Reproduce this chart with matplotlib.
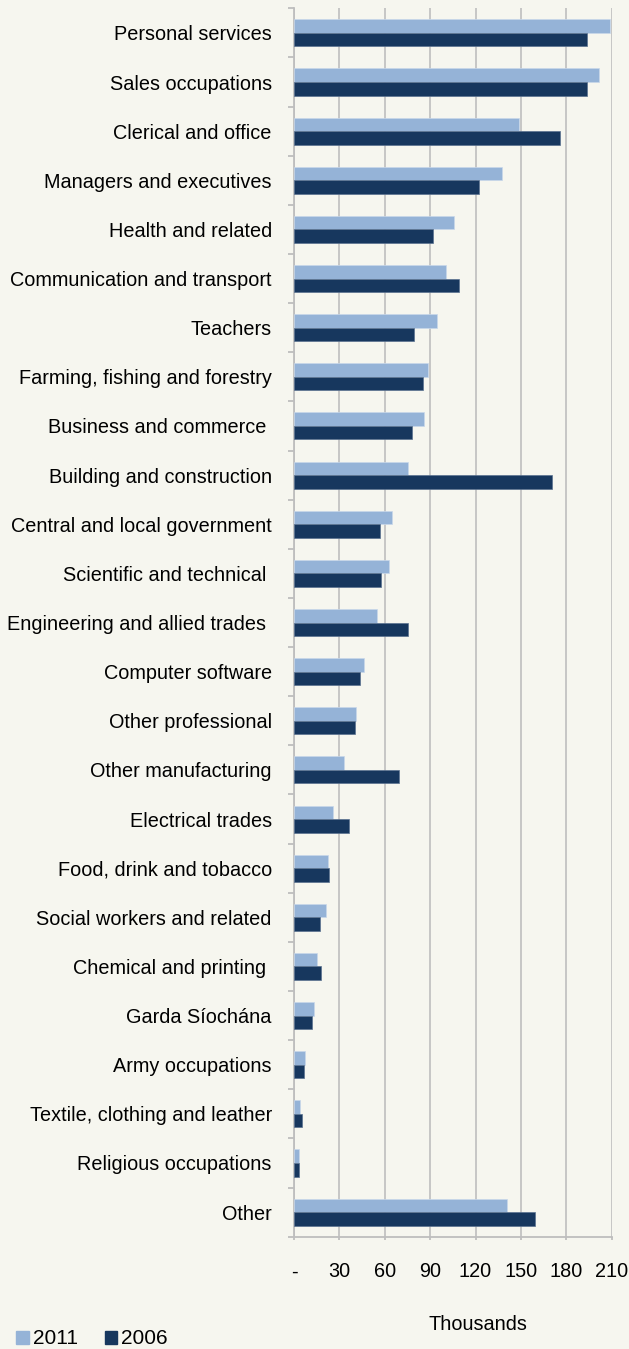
import matplotlib.pyplot as plt
from matplotlib.patches import Patch
import numpy as np

plt.rcParams['font.family'] = ['Liberation Sans', 'DejaVu Sans']

# Occupations, 2011 vs 2006 (thousands)
categories = [
    'Personal services', 'Sales occupations', 'Clerical and office',
    'Managers and executives', 'Health and related', 'Communication and transport',
    'Teachers', 'Farming, fishing and forestry', 'Business and commerce ',
    'Building and construction', 'Central and local government',
    'Scientific and technical ', 'Engineering and allied trades ',
    'Computer software', 'Other professional', 'Other manufacturing',
    'Electrical trades', 'Food, drink and tobacco', 'Social workers and related',
    'Chemical and printing ', 'Garda Síochána', 'Army occupations',
    'Textile, clothing and leather', 'Religious occupations', 'Other',
]
vals_2011 = [208.9, 201.7, 148.8, 137.7, 105.6, 100.7, 94.3, 88.4, 86.0, 75.4,
             64.8, 62.8, 54.7, 46.5, 41.2, 32.8, 25.6, 22.5, 21.2, 15.4,
             13.4, 7.3, 3.7, 3.5, 140.8]
vals_2006 = [194.0, 194.0, 175.9, 122.5, 91.7, 109.3, 79.6, 85.3, 77.8, 170.6,
             57.1, 57.5, 75.2, 43.9, 40.1, 69.2, 36.6, 23.4, 17.2, 17.9,
             12.1, 6.8, 5.5, 3.2, 159.6]
xticks = [0, 30, 60, 90, 120, 150, 180, 210]
xtick_labels = ['-', '30', '60', '90', '120', '150', '180', '210']

bg = '#F6F6EF'
c2011 = '#95B3D7'
c2006 = '#17375E'
grid_c = '#BEBEBE'
fs = 14.3

fig = plt.figure(figsize=(6.29, 13.49), dpi=100, facecolor=bg)
ax = fig.add_axes([294 / 629, 1 - 1236.7 / 1349, (611.7 - 294) / 629, (1236.7 - 8.3) / 1349])
ax.set_facecolor(bg)

y = np.arange(len(categories))
h = 0.275
ax.barh(y - h / 2, vals_2011, height=h, color=c2011, edgecolor='#C9D8EA', linewidth=0.5, zorder=3)
ax.barh(y + h / 2, vals_2006, height=h, color=c2006, edgecolor='#5A7290', linewidth=0.5, zorder=3)

ax.set_ylim(len(categories) - 0.5, -0.5)
ax.set_xlim(0, 210)

# y axis: labels at centres, tick marks between categories
ax.set_yticks(y)
ax.set_yticklabels(categories, fontsize=fs, color='#000000')
ax.tick_params(axis='y', which='major', length=0, pad=16)
ax.set_yticks(np.arange(len(categories) + 1) - 0.5, minor=True)
ax.tick_params(axis='y', which='minor', length=4.5, width=1.3, color=grid_c, direction='out')

ax.set_xticks(xticks)
ax.set_xticklabels(xtick_labels, fontsize=fs)
ax.tick_params(axis='x', length=2.5, width=1.3, color=grid_c, pad=16)

ax.xaxis.grid(True, color=grid_c, linewidth=1.2, zorder=0)
ax.set_axisbelow(True)
for s in ['top', 'right']:
    ax.spines[s].set_visible(False)
for s in ['left', 'bottom']:
    ax.spines[s].set_color(grid_c)
    ax.spines[s].set_linewidth(1.3)

fig.text(478 / 629, 1 - 1325 / 1349, 'Thousands', fontsize=fs, ha='center', va='center')

handles = [Patch(color=c2011, label='2011'), Patch(color=c2006, label='2006')]
fig.legend(handles=handles, loc='center left', bbox_to_anchor=(16 / 629, 1 - 1339 / 1349),
           ncol=2, frameon=False, fontsize=15, handlelength=0.6, handleheight=0.6,
           handletextpad=0.2, columnspacing=1.3, borderaxespad=0, borderpad=0)

fig.savefig('out.png', dpi=100, facecolor=bg)
